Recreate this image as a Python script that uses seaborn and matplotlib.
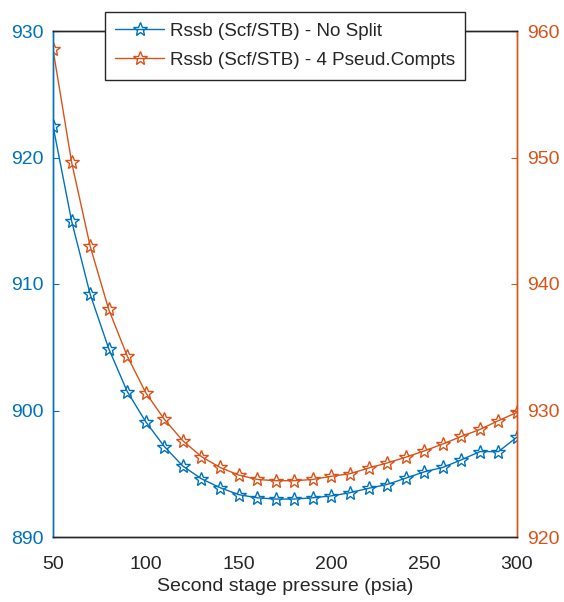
import matplotlib
matplotlib.use("Agg")
import matplotlib.pyplot as plt
import seaborn as sns
import numpy as np
import pandas as pd
from matplotlib.lines import Line2D

pressure = [50, 60, 70, 80, 90, 100, 110, 120, 130, 140, 150, 160, 170,
            180, 190, 200, 210, 220, 230, 240, 250, 260, 270, 280, 290, 300]
rssb_no_split = [922.5, 915.0, 909.2, 904.9, 901.5, 899.1, 897.15, 895.6, 894.6,
                 893.9, 893.35, 893.1, 893.0, 893.0, 893.1, 893.25, 893.5, 893.85,
                 894.15, 894.65, 895.15, 895.5, 896.1, 896.75, 896.75, 897.9]
rssb_4_pseud = [958.55, 949.65, 943.0, 938.0, 934.3, 931.4, 929.3, 927.6, 926.35,
                925.5, 924.9, 924.55, 924.45, 924.45, 924.55, 924.8, 925.0, 925.45,
                925.85, 926.3, 926.8, 927.35, 927.95, 928.5, 929.2, 929.85]
label_no_split = "Rssb (Scf/STB) - No Split"
label_4_pseud = "Rssb (Scf/STB) - 4 Pseud.Compts"
x_label = "Second stage pressure (psia)"
x_ticks = [50, 100, 150, 200, 250, 300]
left_ticks = [890, 900, 910, 920, 930]
right_ticks = [920, 930, 940, 950, 960]

BLUE = "#0072BD"
ORANGE = "#D95319"
FS = 14

sns.set_theme(style="white")
plt.rcParams["font.family"] = ["Liberation Sans", "DejaVu Sans"]

df = pd.DataFrame({"p": pressure, "a": rssb_no_split, "b": rssb_4_pseud})

fig = plt.figure(figsize=(5.64, 6.02), dpi=100)
ax = fig.add_axes([53 / 564, 1 - 537 / 602, (517 - 53) / 564, (537 - 31) / 602])
ax2 = ax.twinx()

sns.lineplot(data=df, x="p", y="a", ax=ax, color=BLUE, lw=1.0, marker="*",
             markersize=10, markerfacecolor="none", markeredgecolor=BLUE,
             markeredgewidth=1.0, legend=False)
sns.lineplot(data=df, x="p", y="b", ax=ax2, color=ORANGE, lw=1.0, marker="*",
             markersize=10, markerfacecolor="none", markeredgecolor=ORANGE,
             markeredgewidth=1.0, legend=False)

ax.set_xlim(50, 300)
ax.set_ylim(890, 930)
ax2.set_ylim(920, 960)
ax.set_xticks(x_ticks)
ax.set_yticks(left_ticks)
ax2.set_yticks(right_ticks)

ax.set_xlabel(x_label, fontsize=FS, color="#262626", labelpad=3)
ax.set_ylabel("")
ax2.set_ylabel("")

ax.tick_params(axis="x", direction="in", length=4, width=0.8, colors="#262626",
               labelsize=FS, pad=14, top=True)
ax.tick_params(axis="y", direction="in", length=4, width=0.8, colors=BLUE,
               labelsize=FS, pad=7)
ax2.tick_params(axis="y", direction="in", length=4, width=0.8, colors=ORANGE,
                labelsize=FS, pad=7)

for a in (ax, ax2):
    for s in a.spines.values():
        s.set_linewidth(1.0)
        s.set_visible(True)
    a.spines["top"].set_color("#262626")
    a.spines["bottom"].set_color("#262626")
    a.spines["left"].set_color(BLUE)
    a.spines["right"].set_color(ORANGE)

handles = [
    Line2D([], [], color=BLUE, lw=1.0, marker="*", markersize=10,
           markerfacecolor="none", markeredgecolor=BLUE),
    Line2D([], [], color=ORANGE, lw=1.0, marker="*", markersize=10,
           markerfacecolor="none", markeredgecolor=ORANGE),
]
leg = ax2.legend(handles, [label_no_split, label_4_pseud], loc="upper center",
                 bbox_to_anchor=(285 / 564, 1 - 12 / 602),
                 bbox_transform=fig.transFigure, fontsize=13.6, frameon=True,
                 fancybox=False, framealpha=1, edgecolor="#262626",
                 handlelength=2.6, handletextpad=0.3, labelspacing=0.65,
                 borderpad=0.55, borderaxespad=0)
leg.get_frame().set_linewidth(1.0)
for t in leg.get_texts():
    t.set_color("#262626")

fig.savefig("out.png", dpi=100)
